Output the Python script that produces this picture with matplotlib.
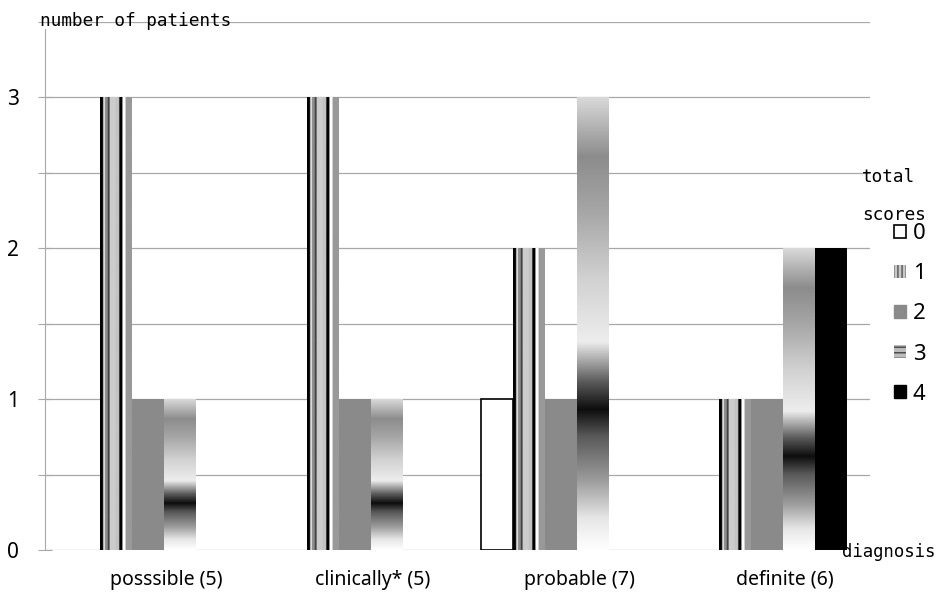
import numpy as np
import matplotlib.pyplot as plt
from matplotlib.patches import Patch
from matplotlib.ticker import MultipleLocator, FuncFormatter
from matplotlib.colors import LinearSegmentedColormap
import matplotlib.transforms as mtransforms

categories = ['posssible (5)', 'clinically* (5)', 'probable (7)', 'definite (6)']
scores = ['0', '1', '2', '3', '4']
score0 = [0, 0, 1, 0]
score1 = [3, 3, 2, 1]
score2 = [1, 1, 1, 1]
score3 = [1, 1, 3, 2]
score4 = [0, 0, 0, 2]

fig = plt.figure(figsize=(9.41, 6.06), dpi=100)
ax = fig.add_axes([0.048, 0.092, 0.877, 0.872])

x = np.arange(len(categories))
w = 0.155
grid_c = '#a8a8a8'

# vertical stripe texture for score 1 (black / white / gray bands across the width)
stripe = np.array([0.0, 0.0, 1.0, 0.55, 0.55, 0.2, 0.8, 0.8, 0.8, 0.8, 0.75, 0.8,
                   0.0, 0.0, 1.0, 1.0, 0.6, 0.6, 0.6, 0.6])[None, :]
# shaded gradient for score 3 (bottom -> top)
shade = LinearSegmentedColormap.from_list('shade', [
    (0.00, (1.0, 1.0, 1.0)), (0.07, (0.9, 0.9, 0.9)), (0.15, (0.62, 0.62, 0.62)),
    (0.25, (0.35, 0.35, 0.35)), (0.31, (0.05, 0.05, 0.05)), (0.37, (0.35, 0.35, 0.35)),
    (0.46, (0.93, 0.93, 0.93)), (0.60, (0.82, 0.82, 0.82)), (0.75, (0.65, 0.65, 0.65)),
    (0.87, (0.55, 0.55, 0.55)), (1.00, (0.85, 0.85, 0.85))])
grad = np.linspace(0, 1, 256)[:, None]


def textured(bars, img, cmap):
    for b in bars:
        h = b.get_height()
        if h <= 0:
            continue
        x0 = b.get_x()
        im = ax.imshow(img, cmap=cmap, vmin=0, vmax=1, origin='lower',
                       extent=[x0, x0 + b.get_width(), 0, h],
                       aspect='auto', interpolation='bilinear', zorder=3)
        im.set_clip_path(b)


def nz(vals):
    return np.ma.masked_equal(np.array(vals, dtype=float), 0)


b0 = ax.bar(x - 2 * w, nz(score0), w, facecolor='white', edgecolor='black',
            linewidth=1.2, zorder=3)
b1 = ax.bar(x - w, score1, w, facecolor='none', edgecolor='none', zorder=3)
textured(b1, stripe, 'gray')
b2 = ax.bar(x, score2, w, color='#8a8a8a', zorder=3)
b3 = ax.bar(x + w, score3, w, facecolor='none', edgecolor='none', zorder=3)
textured(b3, grad, shade)
b4 = ax.bar(x + 2 * w, nz(score4), w, color='black', zorder=3)

ax.set_xlim(-0.5, 3.5)
ax.set_ylim(0, 3.5)
ax.yaxis.set_major_locator(MultipleLocator(0.5))
ax.yaxis.set_major_formatter(FuncFormatter(lambda v, p: '%d' % v if v == int(v) else ''))
ax.grid(axis='y', color=grid_c, linewidth=0.9, zorder=0)
ax.tick_params(axis='y', direction='inout', length=10, color=grid_c, pad=14,
               labelsize=15)
for lab in ax.get_yticklabels():
    lab.set_family('Noto Sans')

ax.set_xticks(x)
ax.set_xticklabels(categories, fontsize=14, family='Noto Sans')
ax.tick_params(axis='x', length=0, pad=14)
shift = mtransforms.ScaledTranslation(18 / 100, 0, fig.dpi_scale_trans)
for lab in ax.get_xticklabels():
    lab.set_transform(lab.get_transform() + shift)

for s in ['top', 'right', 'bottom']:
    ax.spines[s].set_visible(False)
ax.spines['left'].set_color(grid_c)
ax.spines['left'].set_bounds(0, 3.45)

mono = 'DejaVu Sans Mono'
fig.text(0.043, 0.966, 'number of patients', family=mono, fontsize=12.8, va='center')
fig.text(0.895, 0.089, 'diagnosis', family=mono, fontsize=12.4, va='center')
fig.text(0.916, 0.708, 'total', family=mono, fontsize=12.8, va='center')
fig.text(0.916, 0.645, 'scores', family=mono, fontsize=12.8, va='center')

handles = [Patch(facecolor='white', edgecolor='black', linewidth=1.2),
           Patch(facecolor='#c8c8c8', edgecolor='#555555', hatch='||||', linewidth=0),
           Patch(facecolor='#8a8a8a', edgecolor='#8a8a8a'),
           Patch(facecolor='#bbbbbb', edgecolor='#444444', hatch='---', linewidth=0),
           Patch(facecolor='black', edgecolor='black')]
leg = fig.legend(handles, scores, loc='upper left', bbox_to_anchor=(0.938, 0.650),
                 frameon=False, handlelength=0.55, handleheight=0.55,
                 handletextpad=0.3, labelspacing=0.86, borderpad=0,
                 prop={'family': 'Noto Sans', 'size': 16})

fig.savefig('out.png', dpi=100)
